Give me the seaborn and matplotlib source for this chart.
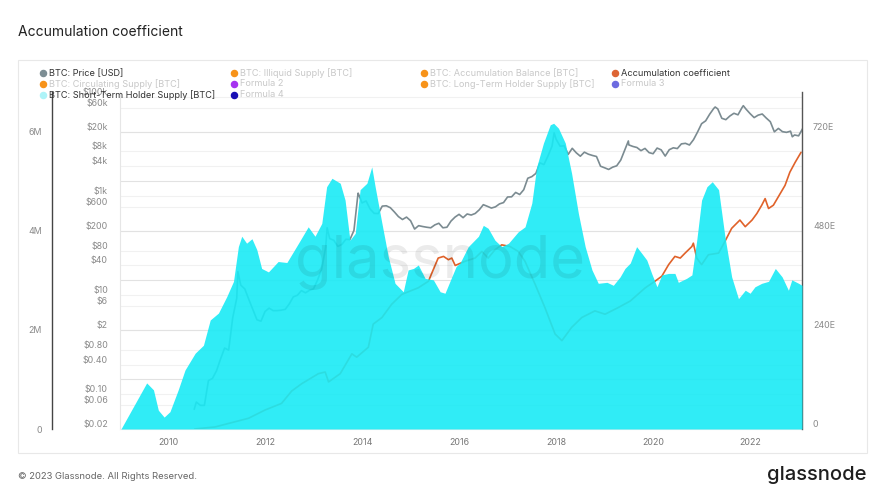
import numpy as np
import pandas as pd
import seaborn as sns
import matplotlib.pyplot as plt
from matplotlib.lines import Line2D
from matplotlib.patches import Rectangle

# ---- data ----
# BTC: Short-Term Holder Supply, millions of BTC (left axis)
sth_year = [2009.03, 2009.56, 2009.70, 2009.80, 2009.92, 2010.04, 2010.21, 2010.35, 2010.56, 2010.73,
            2010.87, 2011.04, 2011.21, 2011.35, 2011.45, 2011.52, 2011.62, 2011.73, 2011.83, 2011.93,
            2012.07, 2012.27, 2012.45, 2012.69, 2012.89, 2013.03, 2013.17, 2013.27, 2013.38, 2013.55,
            2013.65, 2013.75, 2013.86, 2013.96, 2014.10, 2014.20, 2014.27, 2014.41, 2014.54, 2014.68,
            2014.85, 2014.95, 2015.06, 2015.16, 2015.30, 2015.47, 2015.61, 2015.71, 2015.85, 2015.94,
            2016.02, 2016.19, 2016.40, 2016.50, 2016.60, 2016.74, 2016.88, 2017.02, 2017.22, 2017.36,
            2017.50, 2017.60, 2017.74, 2017.88, 2017.95, 2018.05, 2018.19, 2018.32, 2018.46, 2018.60,
            2018.74, 2018.87, 2019.05, 2019.18, 2019.32, 2019.42, 2019.53, 2019.66, 2019.77, 2019.87,
            2019.97, 2020.08, 2020.18, 2020.32, 2020.45, 2020.52, 2020.69, 2020.80, 2020.90, 2021.00,
            2021.11, 2021.22, 2021.35, 2021.48, 2021.62, 2021.76, 2021.90, 2022.00, 2022.10, 2022.24,
            2022.38, 2022.52, 2022.66, 2022.79, 2022.86, 2023.00, 2023.07]
sth_supply = [0.00, 0.93, 0.79, 0.38, 0.24, 0.35, 0.79, 1.19, 1.53, 1.69,
              2.20, 2.34, 2.67, 2.98, 3.68, 3.89, 3.75, 3.84, 3.62, 3.24,
              3.17, 3.38, 3.36, 3.75, 4.08, 3.89, 4.15, 4.89, 5.06, 4.96,
              4.62, 3.81, 3.95, 4.83, 4.96, 5.29, 4.89, 4.15, 3.48, 2.94,
              2.77, 3.21, 3.24, 3.31, 3.04, 3.01, 2.77, 2.74, 3.07, 3.28,
              3.35, 3.68, 3.89, 4.11, 4.05, 3.81, 3.68, 3.75, 3.98, 4.08,
              4.56, 5.29, 5.77, 6.14, 6.17, 6.07, 5.77, 5.16, 4.35, 3.68,
              3.21, 2.94, 2.96, 2.90, 3.07, 3.24, 3.35, 3.68, 3.54, 3.41,
              3.14, 2.87, 3.11, 3.14, 3.14, 2.96, 3.04, 3.11, 3.81, 4.62,
              4.89, 4.99, 4.83, 3.89, 3.07, 2.63, 2.80, 2.74, 2.87, 2.94,
              2.98, 3.24, 3.07, 2.80, 3.01, 2.94, 2.90]

# Accumulation coefficient, in E (right axis)
acc_year = [2010.55, 2010.97, 2011.66, 2012.00, 2012.34, 2012.55, 2012.76, 2013.10, 2013.24, 2013.31,
            2013.55, 2013.79, 2013.89, 2014.13, 2014.23, 2014.41, 2014.61, 2014.82, 2015.16, 2015.37,
            2015.44, 2015.57, 2015.68, 2015.78, 2015.85, 2015.92, 2016.12, 2016.33, 2016.47, 2016.60,
            2016.74, 2016.88, 2017.05, 2017.22, 2017.36, 2017.57, 2017.77, 2017.98, 2018.12, 2018.32,
            2018.53, 2018.80, 2019.01, 2019.28, 2019.53, 2019.84, 2020.04, 2020.18, 2020.32, 2020.45,
            2020.56, 2020.66, 2020.80, 2020.83, 2020.90, 2021.00, 2021.14, 2021.35, 2021.48, 2021.62,
            2021.79, 2021.90, 2022.04, 2022.14, 2022.24, 2022.31, 2022.38, 2022.48, 2022.58, 2022.72,
            2022.82, 2022.93, 2023.05]
acc_coef = [0, 5, 26, 46, 62, 92, 110, 134, 138, 114,
            134, 182, 174, 198, 254, 270, 302, 326, 342, 358,
            378, 414, 418, 410, 414, 396, 406, 414, 430, 414,
            434, 446, 442, 430, 406, 350, 294, 230, 214, 246,
            270, 286, 278, 294, 310, 342, 358, 370, 398, 418,
            414, 426, 442, 450, 414, 398, 422, 426, 454, 486,
            506, 490, 506, 522, 542, 558, 534, 542, 562, 590,
            622, 646, 670]

# BTC price [USD], month-end values from 2010-07 to 2023-01
price_start = (2010, 7)
price_usd = [0.07, 0.06, 0.06, 0.19, 0.21, 0.30,
             0.52, 0.86, 0.78, 3.5, 8.7, 16, 13.4, 8.2, 5.1, 3.2, 3.0, 4.7,
             5.5, 4.9, 4.9, 5.0, 5.2, 6.7, 9.3, 10, 12.4, 11.2, 12.6, 13.5,
             20.4, 33.4, 93, 139, 129, 97, 106, 135, 133, 204, 1130, 730,
             800, 550, 450, 445, 630, 640, 585, 480, 387, 338, 378, 320,
             217, 254, 244, 236, 230, 263, 284, 230, 236, 314, 378, 430,
             368, 437, 416, 448, 531, 673, 624, 575, 609, 698, 742, 963,
             970, 1190, 1080, 1350, 2300, 2480, 2875, 4700, 4340, 6470, 10200, 14150,
             10200, 10400, 6970, 9240, 7500, 6400, 7730, 7030, 6630, 6320, 4020, 3740,
             3460, 3850, 4100, 5350, 8570, 10820, 10080, 9600, 8290, 9200, 7570, 7190,
             9350, 8600, 6440, 8660, 9460, 9140, 11350, 11650, 10780, 13800, 19700, 29000,
             33100, 45100, 58800, 57700, 37300, 35000, 41500, 47100, 43800, 61300, 57000, 46300,
             38500, 43200, 45500, 37700, 31800, 19900, 23300, 20050, 19400, 20500, 17200, 16500,
             23100]
# intra-month highs / lows visible on the line
price_extra_year = [2010.54, 2011.44, 2013.28, 2013.92, 2017.96, 2019.49, 2021.28, 2021.86, 2022.87]
price_extra_usd = [0.05, 30, 230, 1150, 19000, 13000, 63000, 67000, 15800]

price_ticks = [0.02, 0.06, 0.1, 0.4, 0.8, 2, 6, 10, 40, 80, 200, 600, 1000, 4000, 8000, 20000, 60000, 100000]
price_labels = ["$0.02", "$0.06", "$0.10", "$0.40", "$0.80", "$2", "$6", "$10", "$40", "$80",
                "$200", "$600", "$1k", "$4k", "$8k", "$20k", "$60k", "$100k"]
price_major = [0.02, 0.2, 2, 20, 200, 2000, 20000]
sth_ticks = [0, 2, 4, 6]
sth_labels = ["0", "2M", "4M", "6M"]
acc_ticks = [0, 240, 480, 720]
acc_labels = ["0", "240E", "480E", "720E"]
year_ticks = [2010, 2012, 2014, 2016, 2018, 2020, 2022]

legend_items = [
    ("BTC: Price [USD]", "#7d8e94", True),
    ("BTC: Illiquid Supply [BTC]", "#f7931a", False),
    ("BTC: Accumulation Balance [BTC]", "#f7931a", False),
    ("Accumulation coefficient", "#dd6535", True),
    ("BTC: Circulating Supply [BTC]", "#f7931a", False),
    ("Formula 2", "#a633f0", False),
    ("BTC: Long-Term Holder Supply [BTC]", "#f7931a", False),
    ("Formula 3", "#6d6be0", False),
    ("BTC: Short-Term Holder Supply [BTC]", "#aef3f8", True),
    ("Formula 4", "#1a10b5", False),
]

# ---- figure ----
sns.set_style("white")
plt.rcParams['font.family'] = ['Inter', 'DejaVu Sans']

W, H = 886, 498
fig = plt.figure(figsize=(W / 100, H / 100), dpi=100)
fig.patch.set_facecolor("white")


def fx(px):
    return px / W


def fy(py):
    return 1 - py / H


left, right, top, bottom = 120, 802, 92, 429
rect = [fx(left), fy(bottom), fx(right - left), (bottom - top) / H]
px_per_dec = 49.55  # one price decade = 1M of supply = 120E

ax_p = fig.add_axes(rect)
ax_a = fig.add_axes(rect, sharex=ax_p)
ax_s = fig.add_axes(rect, sharex=ax_p)
for a in (ax_p, ax_a, ax_s):
    a.set_facecolor("none")
    for s in a.spines.values():
        s.set_visible(False)

# price (log) axis
price_x = [price_start[0] + (price_start[1] - 1 + i + 1) / 12 for i in range(len(price_usd))]
price_df = pd.DataFrame({"year": price_x + price_extra_year,
                         "usd": price_usd + price_extra_usd}).sort_values("year")
sns.lineplot(data=price_df, x="year", y="usd", ax=ax_p, color="#7b8b91", lw=1.2,
             legend=False, sort=False)
ax_p.set_yscale("log")
ax_p.set_ylim(0.02, 0.02 * 10 ** ((bottom - top) / px_per_dec))
for t in price_ticks:
    ax_p.axhline(t, color="#f1f1f1", lw=0.8, zorder=0)
for t in price_major:
    ax_p.axhline(t, color="#e2e2e2", lw=0.8, zorder=0)
ax_p.set_yticks(price_ticks)
ax_p.set_yticklabels(price_labels)
ax_p.minorticks_off()
ax_p.tick_params(axis="y", length=0, pad=8.6, labelsize=6.4, labelcolor="#8a8a8a")
for lbl in ax_p.get_yticklabels():
    lbl.set_va("bottom")
ax_p.spines["left"].set_visible(True)
ax_p.spines["left"].set_color("#e6e6e6")
ax_p.spines["bottom"].set_visible(True)
ax_p.spines["bottom"].set_color("#ececec")
ax_p.set_xlim(2009.01, 2023.07)
ax_p.set_xticks(year_ticks)
ax_p.set_xticklabels([str(y) for y in year_ticks])
ax_p.tick_params(axis="x", length=3, color="#e0e0e0", pad=3.2, labelsize=6.4, labelcolor="#777777")
ax_p.set_xlabel("")
ax_p.set_ylabel("")

# accumulation coefficient axis (right)
sns.lineplot(x=acc_year, y=acc_coef, ax=ax_a, color="#e0622a", lw=1.2, legend=False)
ax_a.set_ylim(0, (bottom - top) / px_per_dec * 120)
ax_a.yaxis.tick_right()
ax_a.set_yticks(acc_ticks)
ax_a.set_yticklabels(acc_labels)
ax_a.tick_params(axis="y", length=0, pad=7.9, labelsize=6.4, labelcolor="#8a8a8a")
for lbl in ax_a.get_yticklabels():
    lbl.set_va("bottom")
ax_a.spines["right"].set_visible(True)
ax_a.spines["right"].set_color("#555555")
ax_a.spines["right"].set_linewidth(1.0)
ax_a.tick_params(axis="x", bottom=False, labelbottom=False)
ax_a.set_xlabel("")
ax_a.set_ylabel("")

# short-term holder supply axis (left, offset)
ax_s.fill_between(sth_year, sth_supply, 0, color=(25 / 255, 234 / 255, 245 / 255), alpha=0.9, lw=0)
ax_s.set_ylim(0, (bottom - top) / px_per_dec)
ax_s.set_yticks(sth_ticks)
ax_s.set_yticklabels(sth_labels)
ax_s.tick_params(axis="y", length=0, pad=7.2, labelsize=6.4, labelcolor="#8a8a8a")
for lbl in ax_s.get_yticklabels():
    lbl.set_va("bottom")
ax_s.spines["left"].set_visible(True)
ax_s.spines["left"].set_position(("outward", 68 * 0.72))
ax_s.spines["left"].set_color("#444444")
ax_s.spines["left"].set_linewidth(1.0)
ax_s.tick_params(axis="x", bottom=False, labelbottom=False)

# watermark
ax_s.text((440 - left) / (right - left), (bottom - 262) / (bottom - top), "glassnode",
          transform=ax_s.transAxes, ha="center", va="center", fontsize=43,
          color="black", alpha=0.08, zorder=5)

# card frame
fig.add_artist(Rectangle((fx(18), fy(453)), fx(867 - 18), (453 - 60) / H,
                         transform=fig.transFigure, fill=False, edgecolor="#e8e8e8", lw=0.8))

# legend
col_dot = [43.3, 234, 424, 615.3]
row_y = [73.3, 84, 94.7]
for i, (name, col, active) in enumerate(legend_items):
    r, c = divmod(i, 4)
    xd, yd = col_dot[c], row_y[r]
    fig.add_artist(Line2D([fx(xd)], [fy(yd)], transform=fig.transFigure, marker="o",
                          markersize=4.4, color=col, lw=0))
    fig.text(fx(xd + 6), fy(yd), name, fontsize=6.6, va="center", ha="left",
             color="#333333" if active else "#c8c8c8")

# title and footer
fig.text(fx(18), fy(32), "Accumulation coefficient", fontsize=10, color="#222222", va="center")
fig.text(fx(18), fy(476), "\u00a9 2023 Glassnode. All Rights Reserved.", fontsize=6.8,
         color="#666666", va="center")
fig.text(fx(867), fy(475), "glassnode", fontsize=14.5, color="#1e1e1e", va="center", ha="right",
         fontweight="medium")

fig.savefig("out.png", dpi=100)
